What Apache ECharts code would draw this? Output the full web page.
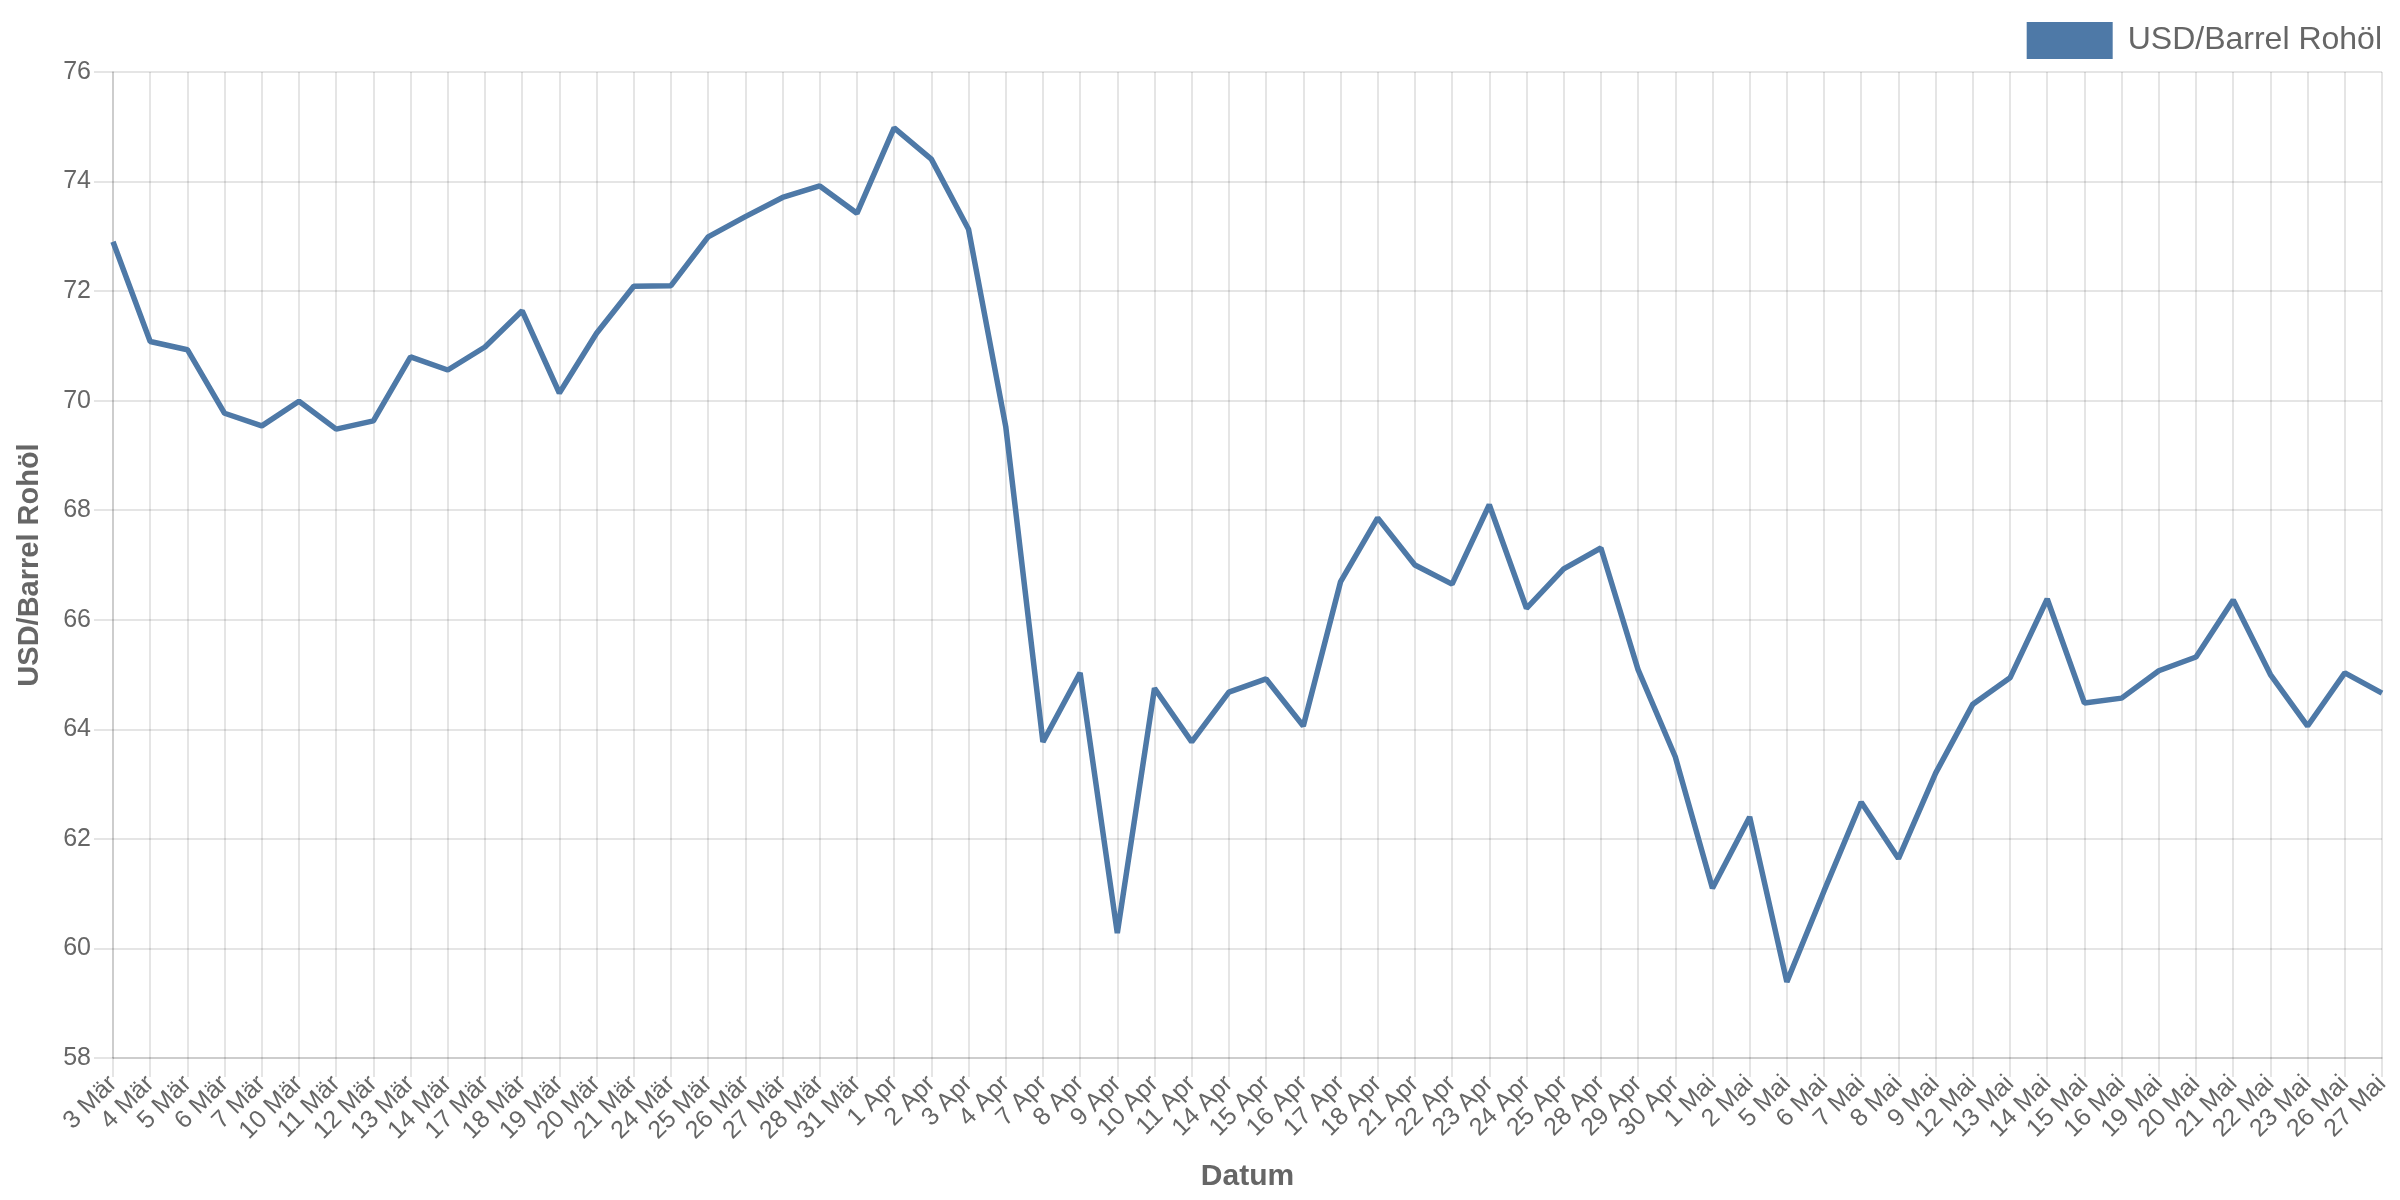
<!DOCTYPE html>
<html>
<head>
<meta charset="utf-8">
<script src="https://cdn.jsdelivr.net/npm/echarts@6/dist/echarts.min.js"></script>
<style>
html,body{margin:0;padding:0;background:#fff;}
#chart{width:2400px;height:1200px;}
</style>
</head>
<body>
<div id="chart"></div>
<script>
const categories = [
  "3 Mär","4 Mär","5 Mär","6 Mär","7 Mär","10 Mär","11 Mär","12 Mär","13 Mär","14 Mär",
  "17 Mär","18 Mär","19 Mär","20 Mär","21 Mär","24 Mär","25 Mär","26 Mär","27 Mär","28 Mär",
  "31 Mär","1 Apr","2 Apr","3 Apr","4 Apr","7 Apr","8 Apr","9 Apr","10 Apr","11 Apr",
  "14 Apr","15 Apr","16 Apr","17 Apr","18 Apr","21 Apr","22 Apr","23 Apr","24 Apr","25 Apr",
  "28 Apr","29 Apr","30 Apr","1 Mai","2 Mai","5 Mai","6 Mai","7 Mai","8 Mai","9 Mai",
  "12 Mai","13 Mai","14 Mai","15 Mai","16 Mai","19 Mai","20 Mai","21 Mai","22 Mai","23 Mai",
  "26 Mai","27 Mai"
];
const oilPrice = [
  72.90, 71.08, 70.93, 69.77, 69.54, 69.99, 69.48, 69.63, 70.80, 70.56,
  70.98, 71.64, 70.14, 71.23, 72.09, 72.10, 72.99, 73.36, 73.71, 73.92,
  73.42, 74.98, 74.41, 73.13, 69.53, 63.77, 65.03, 60.28, 64.75, 63.77,
  64.68, 64.92, 64.06, 66.69, 67.86, 67.00, 66.65, 68.10, 66.21, 66.93,
  67.31, 65.09, 63.50, 61.10, 62.40, 59.39, 61.05, 62.67, 61.64, 63.20,
  64.46, 64.94, 66.38, 64.48, 64.57, 65.07, 65.32, 66.36, 65.00, 64.06,
  65.03, 64.66
];
const seriesName = "USD/Barrel Rohöl";
const yAxisTitle = "USD/Barrel Rohöl";
const xAxisTitle = "Datum";

const chart = echarts.init(document.getElementById('chart'), null, {renderer: 'canvas'});
const gridColor = 'rgba(0,0,0,0.1)';
const font = '"Liberation Sans", Arial, Helvetica, sans-serif';
chart.setOption({
  animation: false,
  backgroundColor: '#fff',
  textStyle: {fontFamily: font},
  legend: {
    top: 17, right: 13,
    icon: 'rect',
    itemWidth: 86, itemHeight: 37, itemGap: 14,
    textStyle: {color: '#666', fontSize: 32, fontFamily: font, padding: [0, 0, 0, 10]},
    data: [seriesName]
  },
  grid: {left: 113, right: 18, top: 72, bottom: 142, containLabel: false},
  xAxis: {
    type: 'category',
    data: categories,
    boundaryGap: false,
    name: xAxisTitle,
    nameLocation: 'middle',
    nameGap: 104,
    nameTextStyle: {color: '#666', fontSize: 30, fontWeight: 'bold', fontFamily: font},
    axisLine: {show: true, lineStyle: {color: gridColor, width: 2}},
    axisTick: {show: true, interval: 0, length: 19, lineStyle: {color: gridColor, width: 2}},
    axisLabel: {interval: 0, rotate: 45, margin: 22, color: '#666', fontSize: 25, fontFamily: font},
    splitLine: {show: true, interval: 0, lineStyle: {color: gridColor, width: 2}}
  },
  yAxis: {
    type: 'value',
    min: 58, max: 76, interval: 2,
    name: yAxisTitle,
    nameLocation: 'middle',
    nameGap: 69,
    nameTextStyle: {color: '#666', fontSize: 29, fontWeight: 'bold', fontFamily: font},
    axisLine: {show: true, lineStyle: {color: gridColor, width: 2}},
    axisTick: {show: true, length: 19, lineStyle: {color: gridColor, width: 2}},
    axisLabel: {margin: 22, color: '#666', fontSize: 25, fontFamily: font},
    splitLine: {show: true, lineStyle: {color: gridColor, width: 2}}
  },
  series: [{
    name: seriesName,
    type: 'line',
    data: oilPrice,
    showSymbol: false,
    symbol: 'none',
    itemStyle: {color: '#4e79a7'},
    lineStyle: {color: '#4e79a7', width: 5.5},
    z: 3
  }]
});
</script>
</body>
</html>
